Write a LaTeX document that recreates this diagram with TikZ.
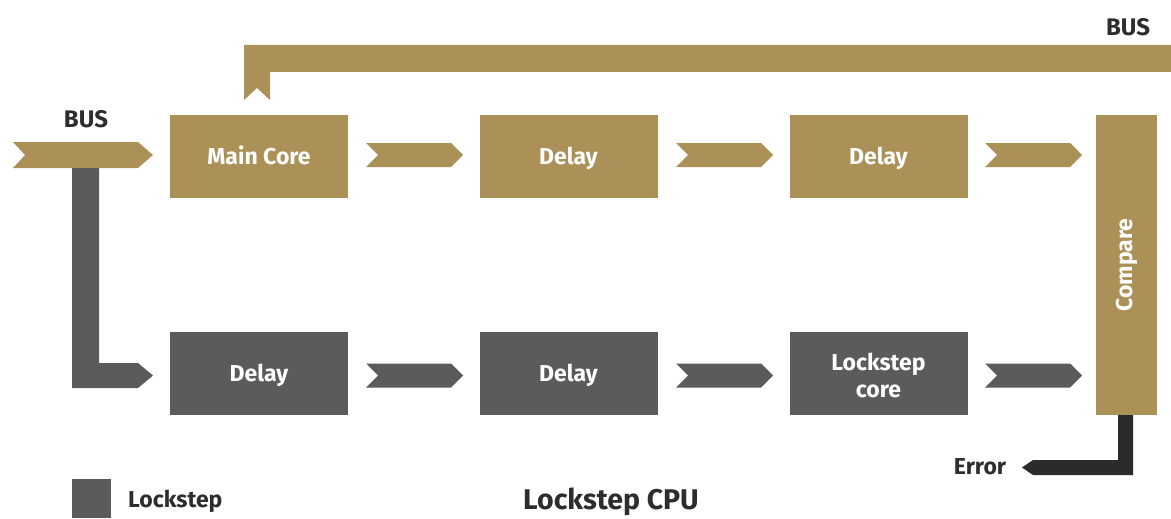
\documentclass[tikz,border=0pt]{standalone}
\usepackage{fontspec}
\setmainfont{Fira Sans}
\definecolor{gold}{RGB}{171,145,88}
\definecolor{lgray}{RGB}{90,91,90}
\definecolor{dgray}{RGB}{43,43,43}
\definecolor{txt}{RGB}{45,45,45}
\begin{document}
\begin{tikzpicture}[x=1pt,y=-1pt,
  boxfont/.style={text=white,font=\bfseries\fontsize{23}{27}\selectfont},
  box/.style={boxfont,minimum width=178pt,minimum height=83pt,inner sep=0pt},
  oneline/.style={text height=16pt,text depth=0pt},
  goldbox/.style={box,oneline,fill=gold},
  graybox/.style={box,oneline,fill=lgray},
  lbl/.style={text=txt,font=\fontsize{23}{26}\selectfont\bfseries},
  pics/chevron/.style={code={\fill[#1] (0,-12) -- (85,-12) -- (97,0) -- (85,12) -- (0,12) -- (12,0) -- cycle;}}]
\useasboundingbox (0,0) rectangle (1171,519);
% boxes
\node[goldbox] (mc) at (259,156.5) {Main Core};
\node[goldbox] (d1) at (568.5,156.5) {Delay};
\node[goldbox] (d2) at (878.5,156.5) {Delay};
\node[graybox] (b1) at (259,373.5) {Delay};
\node[graybox] (b2) at (568.5,373.5) {Delay};
\node[box,fill=lgray] (lc) at (878.5,373.5) {};
\node[boxfont,align=center,inner sep=0pt] (lct) at (878.5,375.5) {Lockstep\\core};
\node[box,fill=gold,minimum width=61pt,minimum height=300pt] (cmp) at (1126.5,265) {};
\node[boxfont,rotate=90] (cmpt) at (cmp.center) {Compare};
% chevrons
\pic at (366,155) {chevron=gold};
\pic at (676,155) {chevron=gold};
\pic at (985,155) {chevron=gold};
\pic at (366,375.5) {chevron=lgray};
\pic at (676,375.5) {chevron=lgray};
\pic at (985,375.5) {chevron=lgray};
% input bus
\fill[gold] (13,142) -- (138,142) -- (153,155) -- (138,168) -- (13,168) -- (25,155) -- cycle;
\fill[lgray] (72,168) -- (99,168) -- (99,363) -- (138,363) -- (153,375.5) -- (138,388) -- (72,388) -- cycle;
% top bus
\fill[gold] (244,100) -- (244,45) -- (1171,45) -- (1171,72) -- (270,72) -- (270,100) -- (257,88) -- cycle;
% error
\fill[dgray] (1118,415) -- (1133,415) -- (1133,475) -- (1033,475) -- (1022,467.5) -- (1033,460) -- (1118,460) -- cycle;
% labels
\node[lbl,font=\fontsize{24}{27}\selectfont\bfseries] (busl) at (86,119) {BUS};
\node[lbl,font=\fontsize{24}{27}\selectfont\bfseries] (busr) at (1128,27) {BUS};
\node[lbl] (err) at (980,467) {Error};
\fill[lgray] (72,479) rectangle (111,518);
\node[lbl,anchor=base west,inner sep=0pt] (leg) at (128,507) {Lockstep};
\node[lbl,anchor=base,inner sep=0pt,font=\fontsize{28.5}{32}\selectfont\bfseries] (title) at (611,509) {Lockstep CPU};
\end{tikzpicture}
\end{document}
